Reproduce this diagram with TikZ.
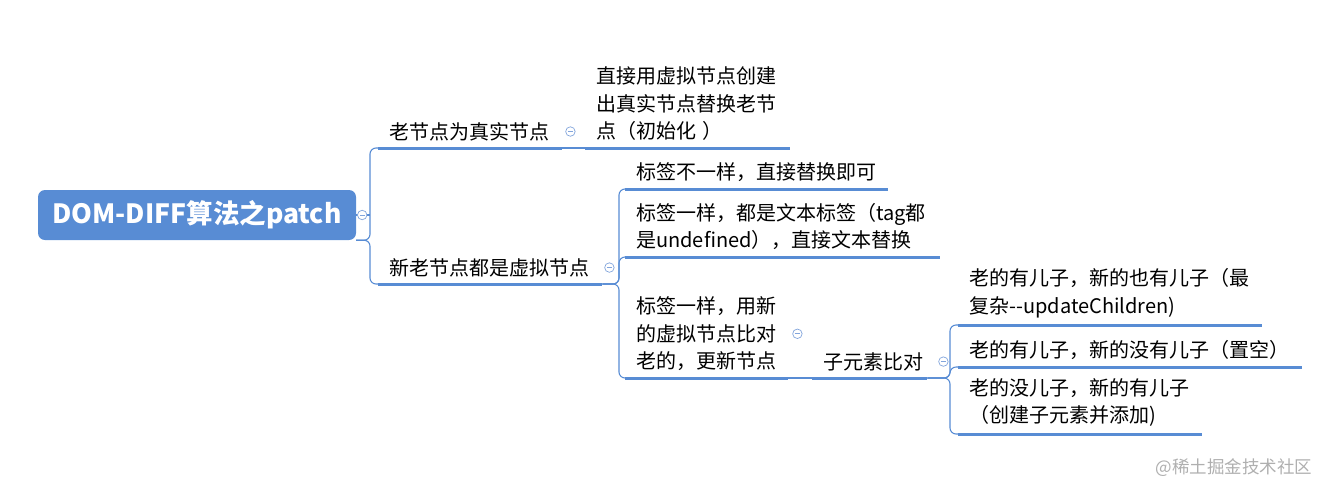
\documentclass[tikz,border=0pt]{standalone}
\usepackage{fontspec}
\setmainfont{Noto Sans CJK SC}
\definecolor{mapblue}{RGB}{88,140,212}
\definecolor{foldblue}{RGB}{130,165,220}
\definecolor{markgray}{RGB}{175,175,175}
\tikzset{
    rootbox/.style={fill=mapblue,rounded corners=7pt,minimum width=318pt,minimum height=50pt,text=white,font=\bfseries\fontsize{26.5}{30}\selectfont},
    topic/.style={anchor=south west,inner xsep=11pt,inner ysep=7pt,align=left,font=\fontsize{20}{27.5}\selectfont},
    uline/.style={draw=mapblue,line width=3pt},
    link/.style={draw=mapblue,line width=1.1pt,rounded corners=6pt},
    fold/.style={circle,draw=foldblue,fill=white,line width=0.7pt,minimum size=9.5pt,inner sep=0pt,
        path picture={\draw[foldblue,line width=0.7pt] ([xshift=-2.6pt]path picture bounding box.center) -- ([xshift=2.6pt]path picture bounding box.center);}},
    watermark/.style={text=markgray,font=\fontsize{17.5}{20}\selectfont}
}
\begin{document}
\begin{tikzpicture}[x=1pt,y=-1pt]
    \useasboundingbox (0,0) rectangle (1330,496);
    \node[rootbox] (root) at (197,215) {DOM-DIFF算法之patch};
    % topics: underline start, text width, name, text
    \foreach \x/\y/\w/\n/\l in {378/148/162pt/old/老节点为真实节点,378/284/202pt/vir/新老节点都是虚拟节点,585/148/183pt/create/直接用虚拟节点创建\\出真实节点替换老节\\点（初始化 ）,625/189/241pt/diff/标签不一样，直接替换即可,625/257/293pt/text/标签一样，都是文本标签（tag都\\是undefined），直接文本替换,625/378/141pt/same/标签一样，用新\\的虚拟节点比对\\老的，更新节点,812/378/93pt/child/子元素比对,958/325/282pt/both/老的有儿子，新的也有儿子（最\\复杂-{}-updateChildren),958/367/322pt/oldonly/老的有儿子，新的没有儿子（置空）,958/434/222pt/newonly/老的没儿子，新的有儿子\\（创建子元素并添加)}{
        \node[topic,text width=\w] (\n) at (\x,\y) {\l};
        \draw[uline] (\n.south west) -- (\n.south east);
    }
    \foreach \m/\n/\d in {root/old/8,root/vir/8,vir/diff/6,vir/text/6,vir/same/6,child/both/8,child/oldonly/8,child/newonly/8}{
        \draw[link] (\m.south east) -| ([xshift=-\d pt]\n.south west) -- (\n.south west);
    }
    \draw[link] (root.east) -- ([xshift=14pt]root.east);
    \foreach \m/\n in {old/create,same/child}{
        \draw[link] (\m.south east) -- (\n.south west);
    }
    \foreach \n/\d in {root/6,old/8,vir/7,same/9,child/16}{
        \node[fold] (\n-fold) at ([xshift=\d pt]\n.east) {};
    }
    \node[watermark] (wm) at (1234,468) {@稀土掘金技术社区};
\end{tikzpicture}
\end{document}
